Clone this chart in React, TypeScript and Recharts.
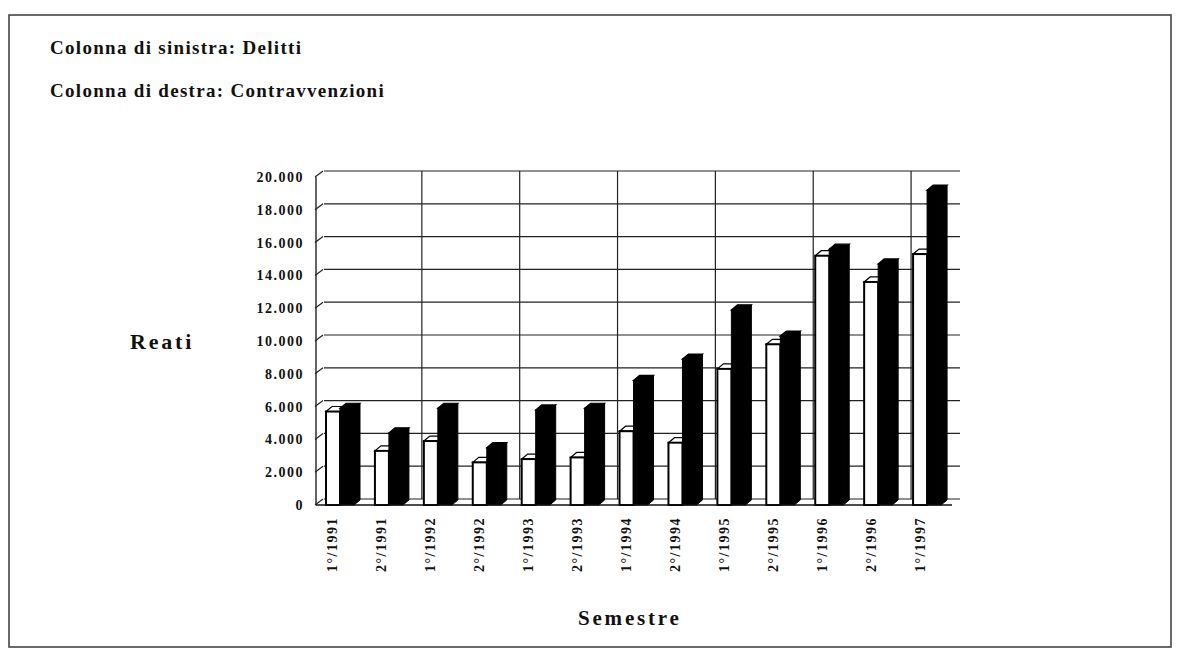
import React from "react";
import { BarChart, Bar, XAxis, YAxis, CartesianGrid } from "recharts";

const semestri = [
  "1°/1991", "2°/1991", "1°/1992", "2°/1992", "1°/1993", "2°/1993", "1°/1994",
  "2°/1994", "1°/1995", "2°/1995", "1°/1996", "2°/1996", "1°/1997",
];
const delitti = [5700, 3300, 3900, 2600, 2800, 2900, 4500, 3800, 8300, 9800, 15200, 13600, 15300];
const contravvenzioni = [5900, 4400, 5900, 3500, 5800, 5900, 7600, 8900, 11900, 10300, 15600, 14700, 19200];
const yTicks = [0, 2000, 4000, 6000, 8000, 10000, 12000, 14000, 16000, 18000, 20000];

const data = semestri.map((s, i) => ({ s, delitti: delitti[i], contravvenzioni: contravvenzioni[i] }));

const FONT = "'Liberation Serif', 'Times New Roman', serif";

const fmt = (v: number) => (v === 0 ? "0" : `${v / 1000}.000`);

const Bar3D = (props: any) => {
  const { x, y, width, height, fill } = props;
  if (height == null || width == null) return null;
  const dx = 6, dy = 5;
  const white = fill === "#ffffff";
  const stroke = "#000";
  return (
    <g>
      <polygon
        points={`${x + width},${y} ${x + width + dx},${y - dy} ${x + width + dx},${y + height - dy} ${x + width},${y + height}`}
        fill="#000"
        stroke={stroke}
        strokeWidth={1}
      />
      <polygon
        points={`${x},${y} ${x + dx},${y - dy} ${x + width + dx},${y - dy} ${x + width},${y}`}
        fill={white ? "#ffffff" : "#000"}
        stroke={stroke}
        strokeWidth={1.2}
      />
      <rect x={x} y={y} width={width} height={height} fill={fill} stroke={stroke} strokeWidth={white ? 2 : 1} />
    </g>
  );
};

const YTick = (props: any) => {
  const { x, y, payload } = props;
  return (
    <g>
      <text x={x} y={y} dy={5} textAnchor="end" fontFamily={FONT} fontWeight="bold" fontSize={14} letterSpacing={1.5} fill="#111">
        {fmt(payload.value)}
      </text>
      <line x1={x + 11} y1={y} x2={x + 19} y2={y - 6} stroke="#222" strokeWidth={1.2} />
    </g>
  );
};

const XTick = (props: any) => {
  const { x, y, payload } = props;
  const ax = x - 3;
  return (
    <text
      x={ax}
      y={y}
      transform={`rotate(-90, ${ax}, ${y})`}
      textAnchor="end"
      fontFamily={FONT}
      fontWeight="bold"
      fontSize={14}
      letterSpacing={1.5}
      fill="#111"
    >
      {payload.value}
    </text>
  );
};

export default function App() {
  return (
    <div style={{ position: "fixed", left: 0, top: 0, width: 1178, height: 651, background: "#fff", overflow: "hidden" }}>
      <style>{`.recharts-cartesian-grid{transform:translate(8px,-6px);}`}</style>
      <BarChart
        width={1178}
        height={651}
        data={data}
        margin={{ top: 177, right: 226, bottom: 86, left: 256 }}
        barGap={0}
        barSize={14}
      >
        <CartesianGrid
          stroke="#222"
          strokeWidth={1.2}
          verticalCoordinatesGenerator={({ offset }: any) =>
            [1, 2, 3, 4, 5, 6].map((k) => offset.left + (k * 2 * offset.width) / semestri.length)
          }
        />
        <XAxis
          dataKey="s"
          interval={0}
          height={60}
          tickSize={0}
          tickMargin={12}
          tick={<XTick />}
          axisLine={{ stroke: "#111", strokeWidth: 1.3 }}
          tickLine={false}
        />
        <YAxis
          width={60}
          domain={[0, 20000]}
          ticks={yTicks}
          interval={0}
          tickSize={0}
          tickMargin={12}
          tick={<YTick />}
          axisLine={{ stroke: "#111", strokeWidth: 1.3 }}
          tickLine={false}
        />
        <Bar dataKey="delitti" fill="#ffffff" shape={<Bar3D />} isAnimationActive={false} />
        <Bar dataKey="contravvenzioni" fill="#000000" shape={<Bar3D />} isAnimationActive={false} />
      </BarChart>
      <svg width={1178} height={651} style={{ position: "absolute", left: 0, top: 0, pointerEvents: "none" }}>
        <rect x={9} y={15} width={1162} height={632} fill="none" stroke="#444" strokeWidth={1.6} />
        <text x={50} y={54} fontFamily={FONT} fontWeight="bold" fontSize={19} letterSpacing={1.3} fill="#111">
          Colonna di sinistra: Delitti
        </text>
        <text x={50} y={97} fontFamily={FONT} fontWeight="bold" fontSize={19} letterSpacing={1.3} fill="#111">
          Colonna di destra: Contravvenzioni
        </text>
        <text x={130} y={349} fontFamily={FONT} fontWeight="bold" fontSize={22} letterSpacing={2.8} fill="#111">
          Reati
        </text>
        <text x={578} y={625} fontFamily={FONT} fontWeight="bold" fontSize={21} letterSpacing={2.8} fill="#111">
          Semestre
        </text>
      </svg>
    </div>
  );
}
